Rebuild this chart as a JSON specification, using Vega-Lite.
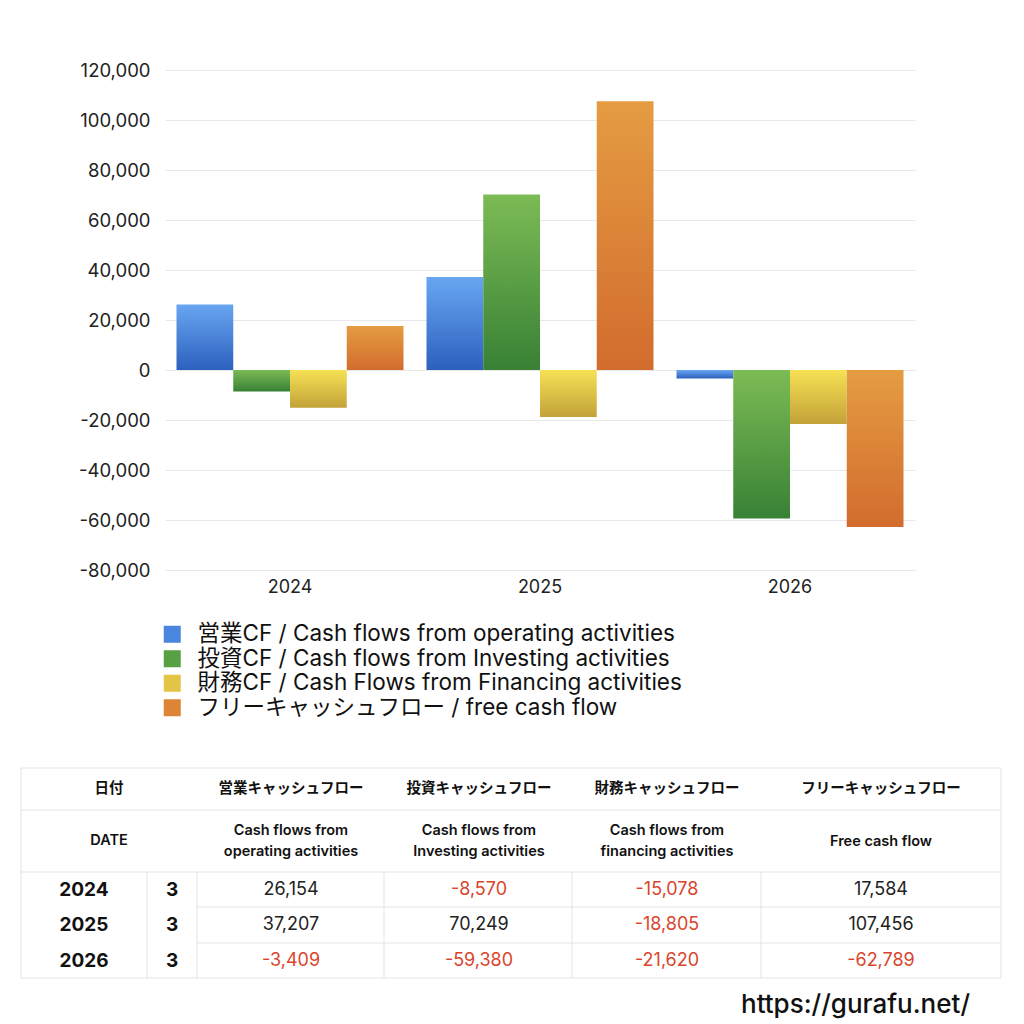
{
  "$schema": "https://vega.github.io/schema/vega-lite/v6.json",
  "background": "white",
  "padding": {"left": 20, "top": 61, "right": 0, "bottom": 0},
  "bounds": "flush",
  "spacing": 198,
  "config": {
    "locale": {"number": {"decimal": ".", "thousands": ",", "grouping": [3], "currency": ["$", ""], "minus": "-"}},
    "view": {"stroke": null},
    "font": "Inter, Noto Sans CJK JP"
  },
  "datasets": {
    "cf": [
      {"year": "2024", "series": "営業CF / Cash flows from operating activities", "value": 26154},
      {"year": "2024", "series": "投資CF / Cash flows from Investing activities", "value": -8570},
      {"year": "2024", "series": "財務CF / Cash Flows from Financing activities", "value": -15078},
      {"year": "2024", "series": "フリーキャッシュフロー / free cash flow", "value": 17584},
      {"year": "2025", "series": "営業CF / Cash flows from operating activities", "value": 37207},
      {"year": "2025", "series": "投資CF / Cash flows from Investing activities", "value": 70249},
      {"year": "2025", "series": "財務CF / Cash Flows from Financing activities", "value": -18805},
      {"year": "2025", "series": "フリーキャッシュフロー / free cash flow", "value": 107456},
      {"year": "2026", "series": "営業CF / Cash flows from operating activities", "value": -3409},
      {"year": "2026", "series": "投資CF / Cash flows from Investing activities", "value": -59380},
      {"year": "2026", "series": "財務CF / Cash Flows from Financing activities", "value": -21620},
      {"year": "2026", "series": "フリーキャッシュフロー / free cash flow", "value": -62789}
    ],
    "cols": [
      {"series": "営業CF / Cash flows from operating activities", "cx": 270},
      {"series": "投資CF / Cash flows from Investing activities", "cx": 458},
      {"series": "財務CF / Cash Flows from Financing activities", "cx": 646},
      {"series": "フリーキャッシュフロー / free cash flow", "cx": 860}
    ],
    "rows": [
      {"year": "2024", "month": "3", "cy": 122},
      {"year": "2025", "month": "3", "cy": 157},
      {"year": "2026", "month": "3", "cy": 193}
    ],
    "lines": [
      {"x": 0, "x2": 980, "y": 0, "y2": 0},
      {"x": 0, "x2": 980, "y": 42, "y2": 42},
      {"x": 0, "x2": 980, "y": 104, "y2": 104},
      {"x": 176, "x2": 980, "y": 139, "y2": 139},
      {"x": 176, "x2": 980, "y": 175, "y2": 175},
      {"x": 0, "x2": 980, "y": 210, "y2": 210},
      {"x": 0, "x2": 0, "y": 0, "y2": 210},
      {"x": 980, "x2": 980, "y": 0, "y2": 210},
      {"x": 126, "x2": 126, "y": 104, "y2": 210},
      {"x": 176, "x2": 176, "y": 104, "y2": 210},
      {"x": 363, "x2": 363, "y": 104, "y2": 210},
      {"x": 551, "x2": 551, "y": 104, "y2": 210},
      {"x": 740, "x2": 740, "y": 104, "y2": 210}
    ],
    "head1": [
      {"t": "日付", "cx": 88, "cy": 21},
      {"t": "営業キャッシュフロー", "cx": 270, "cy": 21},
      {"t": "投資キャッシュフロー", "cx": 458, "cy": 21},
      {"t": "財務キャッシュフロー", "cx": 646, "cy": 21},
      {"t": "フリーキャッシュフロー", "cx": 860, "cy": 21}
    ],
    "head2": [
      {"t": "DATE", "cx": 88, "cy": 73},
      {"t": "Cash flows from", "cx": 270, "cy": 63},
      {"t": "operating activities", "cx": 270, "cy": 84},
      {"t": "Cash flows from", "cx": 458, "cy": 63},
      {"t": "Investing activities", "cx": 458, "cy": 84},
      {"t": "Cash flows from", "cx": 646, "cy": 63},
      {"t": "financing activities", "cx": 646, "cy": 84},
      {"t": "Free cash flow", "cx": 860, "cy": 74}
    ],
    "site": [
      {"t": "https://gurafu.net/", "cx": 949, "cy": 245}
    ]
  },
  "vconcat": [
    {
      "width": 750,
      "height": 500,
      "data": {"name": "cf"},
      "mark": {"type": "bar"},
      "encoding": {
        "x": {
          "field": "year", "type": "nominal", "title": null,
          "scale": {"paddingInner": 0.092, "paddingOuter": 0.046},
          "axis": {"labelAngle": 0, "ticks": false, "domain": false, "labelPadding": 8, "labelFontSize": 18, "labelColor": "#222", "labelFont": "Inter", "grid": false}
        },
        "xOffset": {
          "field": "series", "type": "nominal",
          "sort": ["営業CF / Cash flows from operating activities", "投資CF / Cash flows from Investing activities", "財務CF / Cash Flows from Financing activities", "フリーキャッシュフロー / free cash flow"],
          "scale": {"paddingInner": 0, "paddingOuter": 0}
        },
        "y": {
          "field": "value", "type": "quantitative", "title": null,
          "scale": {"domain": [-80000, 120000], "nice": false},
          "axis": {"values": [-80000, -60000, -40000, -20000, 0, 20000, 40000, 60000, 80000, 100000, 120000], "format": ",d", "ticks": false, "domain": false, "labelPadding": 15, "labelFontSize": 18.5, "labelColor": "#222", "labelFont": "Inter", "gridColor": "#e8e8e8", "gridWidth": 1}
        },
        "color": {
          "field": "series", "type": "nominal",
          "scale": {
            "domain": ["営業CF / Cash flows from operating activities", "投資CF / Cash flows from Investing activities", "財務CF / Cash Flows from Financing activities", "フリーキャッシュフロー / free cash flow"],
            "range": ["#4a86dd", "#58a044", "#e2c546", "#dd8437"]
          },
          "condition": [
            {"test": "datum.series === '営業CF / Cash flows from operating activities'", "value": {"gradient": "linear", "x1": 0, "y1": 0, "x2": 0, "y2": 1, "stops": [{"offset": 0, "color": "#68a6f1"}, {"offset": 1, "color": "#2c60be"}]}},
            {"test": "datum.series === '投資CF / Cash flows from Investing activities'", "value": {"gradient": "linear", "x1": 0, "y1": 0, "x2": 0, "y2": 1, "stops": [{"offset": 0, "color": "#7cbb55"}, {"offset": 1, "color": "#388135"}]}},
            {"test": "datum.series === '財務CF / Cash Flows from Financing activities'", "value": {"gradient": "linear", "x1": 0, "y1": 0, "x2": 0, "y2": 1, "stops": [{"offset": 0, "color": "#f6e154"}, {"offset": 1, "color": "#c3a239"}]}},
            {"test": "datum.series === 'フリーキャッシュフロー / free cash flow'", "value": {"gradient": "linear", "x1": 0, "y1": 0, "x2": 0, "y2": 1, "stops": [{"offset": 0, "color": "#e59c42"}, {"offset": 1, "color": "#d26c2e"}]}}
          ],
          "legend": {
            "title": null,
            "orient": "none",
            "legendX": -4,
            "legendY": 553,
            "direction": "vertical",
            "symbolType": "square",
            "symbolSize": 289,
            "symbolStrokeWidth": 0,
            "labelFontSize": 22.5,
            "labelFont": "Inter, Noto Sans CJK JP",
            "labelColor": "#111",
            "labelLimit": 800,
            "labelOffset": 14,
            "rowPadding": 1.5,
            "padding": 0
          }
        }
      }
    },
    {
      "width": 836,
      "height": 256,
      "layer": [
        {
          "data": {"name": "lines"},
          "mark": {"type": "rule", "color": "#e3e3e3", "strokeWidth": 1},
          "encoding": {
            "x": {"field": "x", "type": "quantitative", "scale": {"domain": [0, 980], "range": [-144, 836], "nice": false, "zero": false}, "axis": null},
            "x2": {"field": "x2"},
            "y": {"field": "y", "type": "quantitative", "scale": {"domain": [0, 256], "range": [0, 256], "nice": false, "zero": false}, "axis": null},
            "y2": {"field": "y2"}
          }
        },
        {
          "data": {"name": "head1"},
          "mark": {"type": "text", "font": "Noto Sans CJK JP", "fontSize": 14.5, "fontWeight": "bold", "color": "#111"},
          "encoding": {
            "x": {"field": "cx", "type": "quantitative"},
            "y": {"field": "cy", "type": "quantitative"},
            "text": {"field": "t"}
          }
        },
        {
          "data": {"name": "head2"},
          "mark": {"type": "text", "font": "Inter", "fontSize": 14.5, "fontWeight": 600, "color": "#111"},
          "encoding": {
            "x": {"field": "cx", "type": "quantitative"},
            "y": {"field": "cy", "type": "quantitative"},
            "text": {"field": "t"}
          }
        },
        {
          "data": {"name": "rows"},
          "mark": {"type": "text", "font": "Inter", "fontSize": 19, "fontWeight": "bold", "color": "#111"},
          "encoding": {
            "x": {"datum": 63, "type": "quantitative"},
            "y": {"field": "cy", "type": "quantitative"},
            "text": {"field": "year"}
          }
        },
        {
          "data": {"name": "rows"},
          "mark": {"type": "text", "font": "Inter", "fontSize": 19, "fontWeight": "bold", "color": "#111"},
          "encoding": {
            "x": {"datum": 151, "type": "quantitative"},
            "y": {"field": "cy", "type": "quantitative"},
            "text": {"field": "month"}
          }
        },
        {
          "data": {"name": "cf"},
          "transform": [
            {"lookup": "series", "from": {"data": {"name": "cols"}, "key": "series", "fields": ["cx"]}},
            {"lookup": "year", "from": {"data": {"name": "rows"}, "key": "year", "fields": ["cy"]}}
          ],
          "mark": {"type": "text", "font": "Inter", "fontSize": 18, "fontWeight": "normal"},
          "encoding": {
            "x": {"field": "cx", "type": "quantitative"},
            "y": {"field": "cy", "type": "quantitative"},
            "text": {"field": "value", "type": "quantitative", "format": ","},
            "color": {"condition": {"test": "datum.value < 0", "value": "#d9452c"}, "value": "#222"}
          }
        },
        {
          "data": {"name": "site"},
          "mark": {"type": "text", "font": "Inter", "fontSize": 26, "fontWeight": 500, "color": "#111", "align": "right", "baseline": "alphabetic"},
          "encoding": {
            "x": {"field": "cx", "type": "quantitative"},
            "y": {"field": "cy", "type": "quantitative"},
            "text": {"field": "t"}
          }
        }
      ]
    }
  ]
}
